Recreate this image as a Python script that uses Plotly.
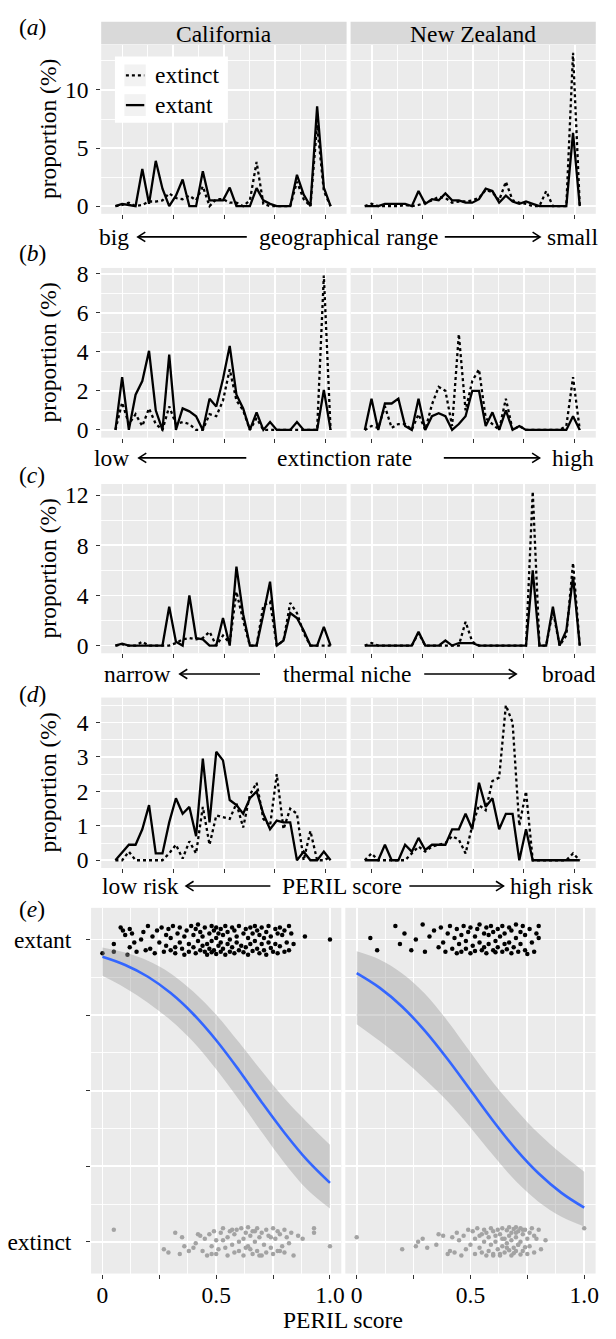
import numpy as np
import plotly.graph_objects as go

W, H = 616, 1339
SERIF = "Liberation Serif, Times New Roman, DejaVu Serif, serif"
FS = 23.5
BG = "#EBEBEB"

# ---------------- data: panels (a)-(d), proportion (%) per bin ----------------
n_bins = 33
bin_lo, bin_hi = -0.035, 1.025

ca_a_extinct = [0, 0.1, 0.3, 0, 0.1, 0.4, 0.4, 0.5, 1.1, 0.7, 0.6, 0.9, 0.5, 1.7, 0, 0.6, 0.6, 0.3, 0.3, 0, 0.5, 3.8, 0.2, 0, 0, 0, 0, 2.1, 0.6, 0, 7.0, 1.3, 0]
ca_a_extant = [0, 0.2, 0.1, 0, 3.2, 0.2, 3.9, 1.5, 0, 0.9, 2.3, 0, 0, 3.0, 0.5, 0.5, 0.5, 1.6, 0, 0, 0, 1.55, 0.5, 0.2, 0, 0, 0, 2.7, 1.0, 0, 8.6, 1.6, 0]
nz_a_extinct = [0, 0.2, 0, 0, 0, 0, 0.1, 0, 0.1, 0.3, 0.5, 0.8, 0.7, 0.3, 0.4, 0.4, 0.5, 0.7, 1.4, 1.2, 0.5, 2.1, 0.5, 0.3, 0.2, 0, 0, 1.3, 0, 0, 0, 13.2, 0]
nz_a_extant = [0, 0, 0, 0.2, 0.2, 0.2, 0.2, 0, 1.3, 0.2, 0.6, 0.5, 1.1, 0.5, 0.5, 0.3, 0.3, 0.6, 1.5, 1.3, 0.3, 0.9, 0.4, 0.2, 0.4, 0.2, 0, 0, 0, 0, 0, 6.3, 0]

ca_b_extinct = [0, 1.4, 0.3, 0.8, 0.2, 1.1, 0.3, 0, 1.2, 0.3, 0.4, 0.3, 0, 0, 0.8, 0.7, 1.5, 3.1, 1.5, 1.0, 0, 0.6, 0, 0, 0, 0, 0, 0, 0, 0, 0, 7.9, 0]
ca_b_extant = [0, 2.7, 0, 1.8, 2.5, 4.05, 1.0, 0, 3.85, 0, 1.1, 0.95, 0.7, 0, 1.6, 1.2, 2.6, 4.3, 1.8, 1.1, 0, 0.9, 0, 0.4, 0, 0, 0, 0.4, 0, 0, 0, 2.05, 0]
nz_b_extinct = [0, 0.2, 0.1, 1.2, 0.1, 0.3, 0.3, 0, 0.8, 0, 1.3, 2.2, 2.0, 0.2, 4.9, 1.0, 2.5, 3.1, 0.6, 0.3, 0, 1.6, 0, 0.2, 0, 0, 0, 0, 0, 0, 0.2, 2.7, 0]
nz_b_extant = [0, 1.6, 0, 1.35, 1.35, 1.6, 0.2, 0, 1.6, 0, 0.7, 0.85, 0.7, 0, 0.3, 0.7, 2.0, 2.0, 0.2, 0.9, 0, 1.0, 0, 0.2, 0, 0, 0, 0, 0, 0, 0, 0.7, 0]

ca_c_extinct = [0, 0.1, 0, 0, 0.3, 0, 0, 0, 0, 0.2, 0.5, 0.6, 0.5, 0.6, 1.1, 0, 0.8, 0.2, 4.3, 2.0, 0, 0, 3.2, 3.5, 0, 0.4, 3.4, 2.6, 1.0, 0, 0, 0, 0]
ca_c_extant = [0, 0.15, 0, 0, 0, 0, 0, 0, 3.1, 0.3, 0, 4.0, 0.6, 0.5, 0, 0, 2.2, 0, 6.3, 2.5, 0, 0, 2.5, 5.1, 0, 0.4, 2.6, 2.2, 1.2, 0, 0, 1.5, 0]
nz_c_extinct = [0, 0.2, 0, 0, 0, 0, 0, 0, 1.0, 0, 0, 0, 0, 0, 0, 1.9, 0.3, 0, 0, 0, 0, 0, 0, 0, 0, 12.3, 0, 0, 2.8, 0, 0.8, 6.6, 0]
nz_c_extant = [0, 0, 0, 0, 0, 0, 0, 0, 1.1, 0, 0, 0, 0.4, 0, 0.2, 0.2, 0.2, 0, 0, 0, 0, 0, 0, 0, 0, 6.0, 0, 0, 3.1, 0, 1.2, 5.5, 0]

ca_d_extinct = [0, 0, 0.25, 0, 0, 0, 0, 0, 0.2, 0.45, 0.05, 0.55, 0.2, 1.55, 0.45, 1.3, 1.25, 1.2, 1.65, 0.95, 1.9, 2.25, 1.2, 1.0, 2.5, 0.9, 1.5, 1.35, 0, 0.85, 0, 0, 0.1]
ca_d_extant = [0, 0.22, 0.45, 0.45, 0.9, 1.6, 0.2, 0.2, 1.1, 1.8, 1.35, 1.55, 0.7, 2.95, 1.1, 3.15, 2.9, 1.75, 1.6, 1.35, 1.8, 2.0, 1.35, 0.9, 1.15, 1.1, 1.1, 0, 0.25, 0, 0, 0.25, 0]
nz_d_extinct = [0, 0.2, 0, 0, 0, 0, 0, 0.2, 0.4, 0.25, 0.4, 0.45, 0.5, 0.7, 0.6, 0.2, 1.0, 1.6, 1.45, 2.3, 2.4, 4.5, 4.0, 1.0, 2.0, 0, 0, 0, 0, 0, 0, 0.2, 0]
nz_d_extant = [0, 0, 0, 0.45, 0, 0, 0.45, 0.25, 0.65, 0.3, 0.45, 0.45, 0.45, 0.9, 0.9, 1.35, 0.9, 2.25, 1.55, 1.8, 0.9, 1.35, 1.35, 0, 0.9, 0, 0, 0, 0, 0, 0, 0, 0]

# ---------------- data: panel (e) ----------------
curve_x = [0, 0.1, 0.2, 0.3, 0.4, 0.5, 0.6, 0.7, 0.8, 0.9, 1.0]
ca_fit = [0.943, 0.916, 0.877, 0.823, 0.753, 0.667, 0.568, 0.462, 0.361, 0.270, 0.195]
ca_lo = [0.880, 0.840, 0.791, 0.733, 0.661, 0.571, 0.470, 0.363, 0.261, 0.173, 0.110]
ca_hi = [0.974, 0.957, 0.930, 0.888, 0.827, 0.751, 0.660, 0.565, 0.474, 0.395, 0.321]
nz_fit = [0.889, 0.841, 0.778, 0.698, 0.604, 0.502, 0.400, 0.306, 0.226, 0.162, 0.113]
nz_lo = [0.720, 0.665, 0.606, 0.538, 0.464, 0.378, 0.286, 0.200, 0.132, 0.083, 0.051]
nz_hi = [0.961, 0.934, 0.888, 0.821, 0.730, 0.627, 0.526, 0.438, 0.358, 0.291, 0.232]

ca_extant_x = [0.00, 0.05, 0.05, 0.08, 0.09, 0.10, 0.11, 0.12, 0.12, 0.13,
               0.14, 0.15, 0.17, 0.18, 0.19, 0.20, 0.21, 0.22, 0.23, 0.24,
               0.25, 0.26, 0.27, 0.28, 0.28, 0.29, 0.30, 0.30, 0.31, 0.32,
               0.32, 0.33, 0.34, 0.34, 0.35, 0.36, 0.36, 0.37, 0.38, 0.38,
               0.39, 0.40, 0.40, 0.41, 0.41, 0.42, 0.42, 0.43, 0.43, 0.44,
               0.44, 0.45, 0.45, 0.46, 0.46, 0.47, 0.47, 0.48, 0.48, 0.48,
               0.49, 0.49, 0.50, 0.50, 0.50, 0.51, 0.51, 0.52, 0.52, 0.52,
               0.53, 0.53, 0.54, 0.54, 0.55, 0.55, 0.56, 0.56, 0.57, 0.57,
               0.58, 0.58, 0.59, 0.59, 0.60, 0.60, 0.61, 0.62, 0.62, 0.63,
               0.63, 0.64, 0.64, 0.65, 0.65, 0.66, 0.66, 0.67, 0.67, 0.68,
               0.68, 0.69, 0.69, 0.70, 0.70, 0.71, 0.71, 0.72, 0.72, 0.73,
               0.73, 0.74, 0.74, 0.75, 0.76, 0.76, 0.77, 0.77, 0.78, 0.78,
               0.79, 0.80, 0.80, 0.81, 0.82, 0.82, 0.83, 0.84, 0.89, 1.00]
ca_extant_y = [0.955, 0.985, 0.960, 1.040, 1.030, 1.015, 0.950, 1.035, 0.975, 1.020,
               0.990, 0.960, 1.000, 1.025, 0.965, 1.045, 0.970, 1.010, 0.955, 1.030,
               0.990, 1.040, 0.960, 1.015, 0.980, 1.035, 0.965, 1.005, 1.045, 0.975,
               0.955, 1.020, 0.990, 1.040, 0.970, 1.010, 0.950, 1.030, 0.985, 0.960,
               1.045, 0.975, 1.015, 0.955, 1.035, 0.995, 1.050, 0.965, 1.025, 0.980,
               1.010, 0.960, 1.040, 0.985, 0.950, 1.020, 0.970, 1.045, 0.995, 0.958,
               1.030, 0.965, 1.005, 0.952, 1.040, 0.980, 1.020, 0.960, 1.035, 0.990,
               0.970, 1.015, 0.950, 1.045, 0.985, 1.025, 0.960, 1.000, 1.040, 0.975,
               0.955, 1.030, 0.990, 1.010, 0.965, 1.045, 0.980, 1.020, 0.958, 1.035,
               0.975, 1.005, 0.950, 1.040, 0.985, 1.020, 0.962, 1.045, 0.995, 0.970,
               1.030, 0.955, 1.015, 0.985, 1.040, 0.965, 1.005, 0.950, 1.025, 0.990,
               1.045, 0.972, 1.010, 0.960, 1.035, 0.985, 1.020, 0.955, 1.040, 0.978,
               1.015, 0.960, 1.030, 0.990, 1.045, 0.965, 1.020, 0.985, 1.010, 1.000]

nz_extant_x = [0.06, 0.09, 0.17, 0.19, 0.21, 0.24, 0.26, 0.29, 0.30, 0.32,
               0.34, 0.36, 0.37, 0.38, 0.39, 0.40, 0.41, 0.42, 0.43, 0.44,
               0.44, 0.45, 0.46, 0.46, 0.47, 0.48, 0.48, 0.49, 0.50, 0.50,
               0.51, 0.52, 0.52, 0.53, 0.54, 0.54, 0.55, 0.56, 0.56, 0.57,
               0.57, 0.58, 0.58, 0.59, 0.60, 0.60, 0.61, 0.61, 0.62, 0.62,
               0.63, 0.64, 0.64, 0.65, 0.65, 0.66, 0.67, 0.67, 0.68, 0.68,
               0.69, 0.70, 0.70, 0.71, 0.72, 0.72, 0.73, 0.74, 0.74, 0.75,
               0.76, 0.77, 0.78, 0.79, 0.80, 0.80]
nz_extant_y = [1.005, 0.965, 1.045, 0.985, 1.020, 0.965, 1.000, 1.050, 0.960, 1.010,
               1.030, 0.975, 1.040, 0.990, 0.960, 1.020, 1.045, 0.970, 1.005, 0.955,
               1.035, 0.985, 1.015, 0.960, 1.045, 0.995, 0.970, 1.025, 0.955, 1.040,
               0.980, 1.010, 0.962, 1.035, 0.990, 1.050, 0.965, 1.020, 0.975, 1.040,
               0.955, 1.015, 0.985, 1.045, 0.965, 1.025, 0.995, 0.958, 1.035, 0.975,
               1.010, 0.960, 1.045, 0.985, 1.020, 0.968, 1.040, 0.990, 0.955, 1.030,
               0.975, 1.050, 1.005, 0.960, 1.025, 0.985, 1.045, 0.965, 1.015, 0.952,
               1.035, 0.990, 0.960, 1.020, 1.045, 1.005]

ca_extinct_x = [0.05, 0.27, 0.29, 0.32, 0.34, 0.35, 0.38, 0.40, 0.41, 0.43,
                0.44, 0.45, 0.46, 0.47, 0.48, 0.49, 0.50, 0.50, 0.51, 0.52,
                0.53, 0.54, 0.55, 0.55, 0.56, 0.57, 0.58, 0.58, 0.59, 0.60,
                0.60, 0.61, 0.62, 0.62, 0.63, 0.64, 0.64, 0.65, 0.65, 0.66,
                0.67, 0.67, 0.68, 0.68, 0.69, 0.70, 0.70, 0.71, 0.72, 0.72,
                0.73, 0.74, 0.75, 0.75, 0.76, 0.77, 0.77, 0.78, 0.79, 0.80,
                0.80, 0.81, 0.82, 0.83, 0.84, 0.86, 0.88, 0.93, 0.93, 1.00,
                0.36, 0.42, 0.48, 0.53, 0.57, 0.63, 0.66, 0.69, 0.74, 0.78]
ca_extinct_y = [0.040, -0.025, -0.035, 0.030, -0.040, 0.015, -0.030, -0.020, -0.005, 0.020,
                -0.030, 0.010, -0.045, 0.025, -0.015, 0.035, -0.040, 0.005, -0.025, 0.030,
                0.045, -0.020, 0.015, -0.045, 0.035, -0.010, 0.025, -0.035, 0.040, 0.000,
                -0.030, 0.045, 0.010, -0.045, 0.030, -0.015, 0.048, -0.025, 0.020, -0.040,
                0.035, 0.000, -0.030, 0.045, 0.015, -0.045, 0.030, -0.010, 0.040, -0.035,
                0.020, -0.020, 0.045, -0.040, 0.010, 0.035, -0.030, 0.025, -0.015, 0.040,
                -0.035, 0.015, -0.005, 0.030, -0.045, 0.020, 0.010, 0.045, 0.030, -0.015,
                -0.015, 0.025, -0.040, 0.005, 0.040, -0.020, 0.035, -0.045, 0.015, -0.030]

nz_extinct_x = [0.00, 0.20, 0.26, 0.27, 0.29, 0.31, 0.35, 0.36, 0.38, 0.40,
                0.42, 0.43, 0.44, 0.45, 0.46, 0.47, 0.48, 0.49, 0.50, 0.51,
                0.52, 0.52, 0.53, 0.54, 0.55, 0.55, 0.56, 0.56, 0.57, 0.57,
                0.58, 0.58, 0.59, 0.59, 0.60, 0.60, 0.61, 0.61, 0.62, 0.62,
                0.63, 0.63, 0.64, 0.64, 0.65, 0.65, 0.66, 0.66, 0.67, 0.67,
                0.67, 0.68, 0.68, 0.68, 0.69, 0.69, 0.69, 0.70, 0.70, 0.70,
                0.71, 0.71, 0.72, 0.72, 0.72, 0.73, 0.73, 0.74, 0.74, 0.75,
                0.75, 0.76, 0.76, 0.77, 0.78, 0.78, 0.79, 0.80, 0.81, 0.83,
                1.00, 0.41, 0.54, 0.63, 0.70, 0.71, 0.73, 0.64, 0.60, 0.66]
nz_extinct_y = [0.015, -0.025, -0.015, 0.000, 0.010, -0.020, -0.010, 0.025, 0.020, -0.040,
                0.015, -0.035, 0.030, 0.005, -0.045, 0.020, -0.025, 0.040, -0.010, 0.035,
                -0.040, 0.010, 0.045, -0.020, 0.025, -0.035, 0.040, 0.000, -0.045, 0.030,
                0.015, -0.030, 0.045, -0.010, 0.035, -0.045, 0.020, 0.000, -0.025, 0.040,
                -0.040, 0.025, 0.045, -0.015, 0.010, -0.035, 0.038, -0.005, 0.048, -0.028,
                0.020, -0.045, 0.030, 0.005, -0.020, 0.042, -0.038, 0.015, 0.048, -0.030,
                0.035, -0.010, 0.045, -0.042, 0.000, 0.025, -0.030, 0.040, -0.018, 0.010,
                -0.040, 0.030, -0.015, 0.045, 0.020, -0.035, 0.010, 0.040, -0.025, 0.005,
                0.045, -0.030, 0.020, -0.045, 0.030, -0.010, 0.040, 0.010, -0.040, -0.020]

regions = ["California", "New Zealand"]
status_labels = ["extinct", "extant"]
row_labels = [("big", "geographical range", "small"),
              ("low", "extinction rate", "high"),
              ("narrow", "thermal niche", "broad"),
              ("low risk", "PERIL score", "high risk")]

# ---------------- layout helpers (pixel -> paper) ----------------
def fx(p):
    return p / W


def fy(p):
    return 1 - p / H


COLS_AD = [(101.7, 348.3), (352.3, 598.7)]
COLS_E = [(91.5, 343.0), (347.0, 598.5)]

rows = [
    dict(top=38.0, bot=208.7, yr=[-0.66, 13.9], ytv=[0, 5, 10], ymn=[2.5, 7.5, 12.5],
         data=[(ca_a_extinct, ca_a_extant), (nz_a_extinct, nz_a_extant)]),
    dict(top=263.3, bot=434.5, yr=[-0.395, 8.29], ytv=[0, 2, 4, 6, 8], ymn=[1, 3, 5, 7],
         data=[(ca_b_extinct, ca_b_extant), (nz_b_extinct, nz_b_extant)]),
    dict(top=481.3, bot=652.1, yr=[-0.615, 12.9], ytv=[0, 4, 8, 12], ymn=[2, 6, 10],
         data=[(ca_c_extinct, ca_c_extant), (nz_c_extinct, nz_c_extant)]),
    dict(top=696.8, bot=868.8, yr=[-0.225, 4.725], ytv=[0, 1, 2, 3, 4], ymn=[0.5, 1.5, 2.5, 3.5, 4.5],
         data=[(ca_d_extinct, ca_d_extant), (nz_d_extinct, nz_d_extant)]),
]

bins = np.linspace(bin_lo, bin_hi, n_bins)

fig = go.Figure()
layout = dict(width=W, height=H, margin=dict(l=0, r=0, t=0, b=0),
              paper_bgcolor="white", plot_bgcolor=BG, showlegend=False,
              font=dict(family=SERIF, size=FS, color="black"))

GRID = dict(showgrid=True, gridcolor="white", gridwidth=1.8, zeroline=False,
            showline=False, fixedrange=True)
TICKS = dict(ticks="outside", ticklen=4, tickwidth=1, tickcolor="#333333")
XT = [0, 0.25, 0.5, 0.75, 1.0]
XM = [0.125, 0.375, 0.625, 0.875]


def names(n):
    return ("xaxis" if n == 1 else f"xaxis{n}", "yaxis" if n == 1 else f"yaxis{n}",
            "x" if n == 1 else f"x{n}", "y" if n == 1 else f"y{n}")


for i, r in enumerate(rows):
    for j in range(2):
        n = 2 * i + j + 1
        xa, ya, xr, yr_ = names(n)
        c0, c1 = COLS_AD[j]
        layout[xa] = dict(domain=[fx(c0), fx(c1)], range=[-0.105, 1.104], anchor=yr_,
                          tickmode="array", tickvals=XT, showticklabels=False,
                          minor=dict(tickmode="array", tickvals=XM, showgrid=True,
                                     gridcolor="white", gridwidth=0.9, ticks=""),
                          **GRID, **TICKS)
        yax = dict(domain=[fy(r["bot"]), fy(r["top"])], range=r["yr"], anchor=xr,
                   tickmode="array", tickvals=r["ytv"], showticklabels=(j == 0),
                   tickfont=dict(size=FS, family=SERIF, color="black"),
                   minor=dict(tickmode="array", tickvals=r["ymn"], showgrid=True,
                              gridcolor="white", gridwidth=0.9, ticks=""),
                   **GRID)
        if j == 0:
            yax.update(TICKS)
            yax["ticklabelstandoff"] = 3
        else:
            yax["ticks"] = ""
        layout[ya] = yax
        ext, exa = r["data"][j]
        fig.add_trace(go.Scatter(x=bins, y=ext, mode="lines", xaxis=xr, yaxis=yr_,
                                 line=dict(color="black", width=2.3, dash="dot"),
                                 hoverinfo="skip", name=status_labels[0]))
        fig.add_trace(go.Scatter(x=bins, y=exa, mode="lines", xaxis=xr, yaxis=yr_,
                                 line=dict(color="black", width=2.3),
                                 hoverinfo="skip", name=status_labels[1]))

# ---------------- panel (e) ----------------
E_TOP, E_BOT = 909.0, 1278.0
e_sets = [
    (ca_extant_x, ca_extant_y, ca_extinct_x, ca_extinct_y, ca_lo, ca_hi, ca_fit),
    (nz_extant_x, nz_extant_y, nz_extinct_x, nz_extinct_y, nz_lo, nz_hi, nz_fit),
]
for j in range(2):
    n = 9 + j
    xa, ya, xr, yr_ = names(n)
    c0, c1 = COLS_E[j]
    layout[xa] = dict(domain=[fx(c0), fx(c1)], range=[-0.05, 1.05], anchor=yr_,
                      tickmode="array", tickvals=XT, ticktext=["0", "", "0.5", "", "1.0"],
                      tickfont=dict(size=FS, family=SERIF, color="black"),
                      ticklabelstandoff=-4,
                      minor=dict(tickmode="array", tickvals=XM, showgrid=True,
                                 gridcolor="white", gridwidth=0.9, ticks=""),
                      **GRID, **TICKS)
    yax = dict(domain=[fy(E_BOT), fy(E_TOP)], range=[-0.105, 1.105], anchor=xr,
               tickmode="array", tickvals=XT,
               ticktext=["extinct", "", "", "", "extant"], showticklabels=(j == 0),
               tickfont=dict(size=FS, family=SERIF, color="black"),
               minor=dict(tickmode="array", tickvals=XM, showgrid=True,
                          gridcolor="white", gridwidth=0.9, ticks=""),
               **GRID)
    if j == 0:
        yax.update(TICKS)
        yax["ticklabelstandoff"] = 10
    else:
        yax["ticks"] = ""
    layout[ya] = yax
    ax_, ay_, bx_, by_, lo, hi, fit = e_sets[j]
    fig.add_trace(go.Scatter(x=ax_, y=ay_, mode="markers", xaxis=xr, yaxis=yr_,
                             marker=dict(color="black", size=4.5), hoverinfo="skip"))
    fig.add_trace(go.Scatter(x=bx_, y=by_, mode="markers", xaxis=xr, yaxis=yr_,
                             marker=dict(color="#A3A3A3", size=4.5), hoverinfo="skip"))
    fig.add_trace(go.Scatter(x=curve_x, y=hi, mode="lines", xaxis=xr, yaxis=yr_,
                             line=dict(width=0, shape="spline"), hoverinfo="skip"))
    fig.add_trace(go.Scatter(x=curve_x, y=lo, mode="lines", xaxis=xr, yaxis=yr_,
                             line=dict(width=0, shape="spline"), fill="tonexty",
                             fillcolor="rgba(153,153,153,0.4)", hoverinfo="skip"))
    fig.add_trace(go.Scatter(x=curve_x, y=fit, mode="lines", xaxis=xr, yaxis=yr_,
                             line=dict(color="#3366FF", width=2.6, shape="spline"),
                             hoverinfo="skip"))

# ---------------- annotations & decorations ----------------
ann = []
shapes = []


def text(x, y, s, anchor="center", size=FS, angle=0):
    ann.append(dict(x=fx(x), y=fy(y), xref="paper", yref="paper", text=s,
                    showarrow=False, xanchor=anchor, yanchor="middle", textangle=angle,
                    font=dict(family=SERIF, size=size, color="black")))


def arrow(x_tail, x_head, y):
    d = 1 if x_head > x_tail else -1
    shapes.append(dict(type="path", xref="paper", yref="paper",
                       path=f"M {fx(x_tail)} {fy(y)} L {fx(x_head)} {fy(y)}",
                       line=dict(color="black", width=1.6)))
    shapes.append(dict(type="path", xref="paper", yref="paper",
                       path=(f"M {fx(x_head - d * 7.5)} {fy(y - 4.8)} L {fx(x_head)} {fy(y)} "
                             f"L {fx(x_head - d * 7.5)} {fy(y + 4.8)}"),
                       line=dict(color="black", width=1.6)))


# strips
for j, reg in enumerate(regions):
    c0, c1 = COLS_AD[j]
    shapes.append(dict(type="rect", xref="paper", yref="paper", x0=fx(c0), x1=fx(c1),
                       y0=fy(37.7), y1=fy(15.0), fillcolor="#D9D9D9", line=dict(width=0)))
    text((c0 + c1) / 2, 27.0, reg)

# panel letters
for lab, yy in zip("abcde", [20, 248, 472, 693, 910]):
    text(17, yy, f"(<i>{lab}</i>)", anchor="left")

# y titles
for r in rows:
    text(48, (r["top"] + r["bot"]) / 2, "proportion (%)", angle=-90)

# rows of direction labels
row_geo = [
    dict(y=232, lx=97, la=(248, 138.5), cx=350.5, ra=(447, 542.7), rx=603),
    dict(y=455, lx=92, la=(247.5, 139.5), cx=345.8, ra=(446, 542.2), rx=599),
    dict(y=673, lx=103, la=(261.3, 180.7), cx=349.7, ra=(426.3, 518.7), rx=601),
    dict(y=887, lx=100.4, la=(271.7, 187), cx=343.7, ra=(411.4, 505.9), rx=598.4),
]
for g, (lt, ct, rt) in zip(row_geo, row_labels):
    text(g["lx"], g["y"], lt, anchor="left")
    text(g["cx"], g["y"], ct)
    text(g["rx"], g["y"], rt, anchor="right")
    arrow(g["la"][0], g["la"][1], g["y"])
    arrow(g["ra"][0], g["ra"][1], g["y"])

# x title of (e)
text(345, 1325, "PERIL score")

# legend in panel (a)
shapes.append(dict(type="rect", xref="paper", yref="paper", x0=fx(115.5), x1=fx(229),
                   y0=fy(116.7), y1=fy(50), fillcolor="white", line=dict(width=0)))
for yc, dash in [(69, "dot"), (99, "solid")]:
    shapes.append(dict(type="rect", xref="paper", yref="paper", x0=fx(125), x1=fx(146.5),
                       y0=fy(yc + 11), y1=fy(yc - 11), fillcolor="#F2F2F2", line=dict(width=0)))
    shapes.append(dict(type="line", xref="paper", yref="paper", x0=fx(126.5), x1=fx(145),
                       y0=fy(yc), y1=fy(yc), line=dict(color="black", width=2.3, dash=dash)))
text(153.5, 69, status_labels[0], anchor="left")
text(153.5, 99, status_labels[1], anchor="left")

layout["annotations"] = ann
layout["shapes"] = shapes
fig.update_layout(**layout)
fig.write_html("out.html", config={"displayModeBar": False, "staticPlot": True},
               post_script="document.body.style.margin='0';document.body.style.overflow='hidden';")
